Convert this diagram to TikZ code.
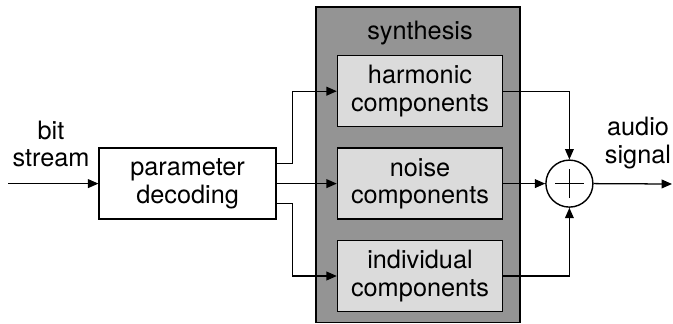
\documentclass[tikz,border=0pt]{standalone}
\usepackage{fontspec}
\setmainfont{TeX Gyre Heros}
\usetikzlibrary{arrows.meta,positioning,calc,backgrounds}
\definecolor{synthgray}{gray}{0.58}
\definecolor{compgray}{gray}{0.86}

\begin{document}
\begin{tikzpicture}[x=1mm,y=1mm,
  font=\fontsize{18}{19.5}\selectfont,
  block/.style={draw=black,fill=white,align=center,inner sep=0pt,
    minimum height=17.75mm,minimum width=44.25mm,line width=1pt},
  comp/.style={block,fill=compgray,minimum width=41.25mm},
  frame/.style={draw=black,fill=synthgray,line width=1.2pt},
  sum/.style={circle,draw=black,fill=white,line width=1pt,
    minimum size=11.75mm,inner sep=0pt},
  lbl/.style={align=center,inner sep=0pt},
  arr/.style={-{Triangle[length=2.6mm,width=2.2mm]},line width=0.9pt}]

  \useasboundingbox (0,0) rectangle (168.25,-80.75);

  \node[block] (dec) at (46.9,-45.9) {parameter\\decoding};
  \node[lbl] (bits) at (12.75,-36) {bit\\stream};
  \coordinate (in) at (2,-45.9);
  \draw[arr] (in) -- (dec.west);

  % synthesis stage
  \node[comp,right=15mm of dec] (noise) {noise\\components};
  \node[comp,above=5mm of noise] (harm) {harmonic\\components};
  \node[comp,below=5mm of noise] (indiv) {individual\\components};
  \begin{scope}[on background layer]
    \draw[frame] ($(harm.north west)+(-5.25,12)$) rectangle ($(indiv.south east)+(4.25,-2.6)$);
  \end{scope}
  \node[lbl] (synlbl) at ($(harm.north)+(0,5.4)$) {synthesis};

  \draw[arr] ($(dec.east)+(0,5)$) -- ++(4,0) |- (harm.west);
  \draw[arr] (dec.east) -- (noise.west);
  \draw[arr] ($(dec.east)+(0,-5)$) -- ++(4,0) |- (indiv.west);

  % summation
  \node[sum,right=10.5mm of noise] (sum) {};
  \draw[line width=1pt] ([xshift=-3.6mm]sum.center) -- ([xshift=3.6mm]sum.center);
  \draw[line width=1pt] ([yshift=-3.6mm]sum.center) -- ([yshift=3.6mm]sum.center);
  \draw[arr] (harm.east) -| (sum.north);
  \draw[arr] (noise.east) -- (sum.west);
  \draw[arr] (indiv.east) -| (sum.south);

  \coordinate (out) at (168,-46);
  \draw[arr] (sum.east) -- (out);
  \node[lbl] (audio) at (159.5,-35.75) {audio\\signal};

\end{tikzpicture}
\end{document}
